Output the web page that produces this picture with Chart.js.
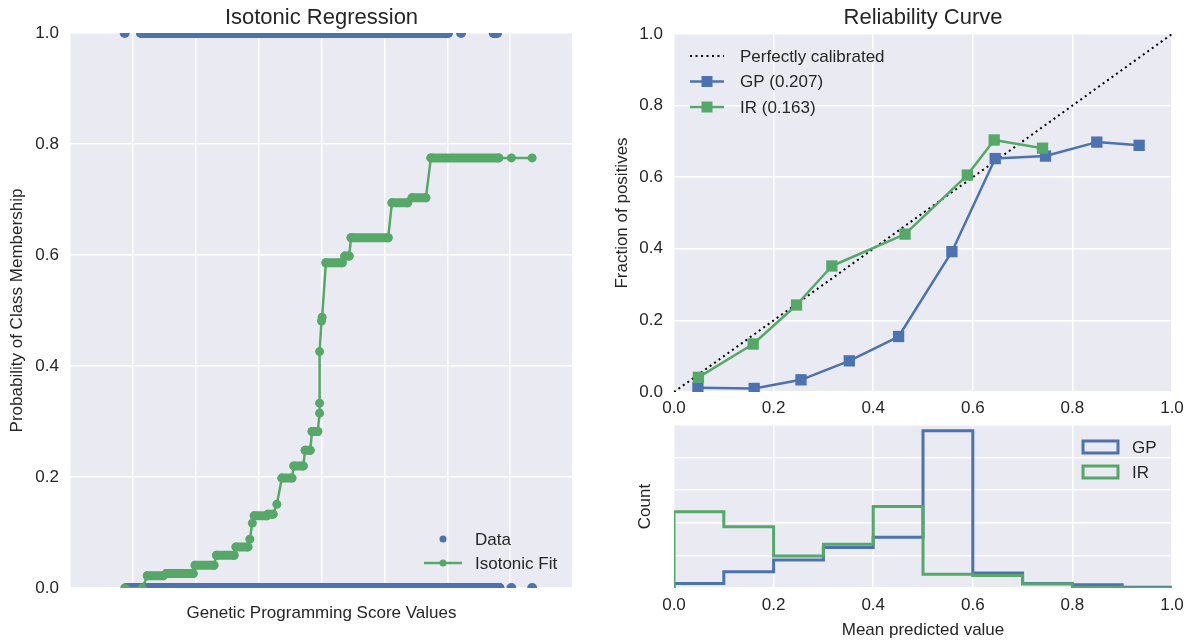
<!DOCTYPE html>
<html>
<head>
<meta charset="utf-8">
<script src="https://cdn.jsdelivr.net/npm/chart.js@4"></script>
<style>
  body { margin: 0; background: #fff; }
  #wrap { position: relative; width: 1198px; height: 641px; }
  canvas { position: absolute; }
</style>
</head>
<body>
<div id="wrap">
  <canvas id="iso" width="600" height="641" style="left:0;top:0"></canvas>
  <canvas id="rel" width="598" height="420" style="left:600px;top:0"></canvas>
  <canvas id="hist" width="598" height="221" style="left:600px;top:420px"></canvas>
</div>
<script>
// isotonic fit: runs of fitted points [start, end] at each level
const fitStart = [-3.13, -2.85, -2.77, -2.47, -2.01, -1.67, -1.36, -1.14, -1.10, -1.07, -0.85, -0.71, -0.63, -0.44, -0.26, -0.15, -0.03, -0.03, -0.03, 0.00, 0.01, 0.07, 0.37, 0.47, 1.12, 1.44, 1.74, 3.02, 3.35];
const fitEnd   = [-3.13, -2.85, -2.52, -2.04, -1.71, -1.39, -1.17, -1.14, -1.10, -0.87, -0.77, -0.71, -0.47, -0.29, -0.18, -0.06, -0.03, -0.03, -0.03, 0.00, 0.01, 0.33, 0.44, 1.06, 1.37, 1.66, 2.82, 3.02, 3.35];
const fitLevel = [0, 0, 0.022, 0.026, 0.041, 0.059, 0.074, 0.088, 0.117, 0.130, 0.133, 0.151, 0.198, 0.220, 0.248, 0.282, 0.315, 0.333, 0.426, 0.481, 0.488, 0.586, 0.598, 0.631, 0.694, 0.703, 0.775, 0.775, 0.775];

// raw data (class 1 and class 0), dense runs of samples
const dataStart = [-3.13, -2.87, 2.22, 2.74, -3.10, 3.02, 3.35];
const dataEnd   = [-3.13, 2.01, 2.22, 2.79, 2.83, 3.02, 3.35];
const dataClass = [1, 1, 1, 1, 0, 0, 0];

// reliability curve
const meanGP = [0.048, 0.161, 0.255, 0.352, 0.451, 0.558, 0.645, 0.746, 0.849, 0.934];
const fracGP = [0.012, 0.010, 0.034, 0.087, 0.155, 0.392, 0.652, 0.659, 0.698, 0.689];
const meanIR = [0.049, 0.159, 0.246, 0.317, 0.464, 0.589, 0.643, 0.740];
const fracIR = [0.041, 0.134, 0.243, 0.352, 0.441, 0.606, 0.704, 0.681];
const diagX = [0, 1];
const diagY = [0, 1];

// histogram of predicted values
const binEdges = [0, 0.1, 0.2, 0.3, 0.4, 0.5, 0.6, 0.7, 0.8, 0.9, 1.0];
const countGP = [7, 25, 43, 62, 78, 241, 23, 7, 5, 1];
const countIR = [117, 94, 49, 67, 125, 21, 19, 6, 1, 0];

const BLUE = "#4C72B0";
const GREEN = "#55A868";
const TEXT = "#262626";
const FONT = '"Liberation Sans", Arial, sans-serif';

Chart.defaults.font.family = FONT;
Chart.defaults.font.size = 17;
Chart.defaults.color = TEXT;
Chart.defaults.animation = false;
Chart.defaults.plugins.legend.display = false;
Chart.defaults.plugins.tooltip.enabled = false;

const plotBg = {
  id: "plotBg",
  beforeDraw(chart) {
    const a = chart.chartArea;
    const ctx = chart.ctx;
    ctx.save();
    ctx.fillStyle = "#EAEAF2";
    ctx.fillRect(a.left, a.top, a.right - a.left, a.bottom - a.top);
    ctx.restore();
  },
};

// title centred over the plot area, not the canvas
const plotTitle = {
  id: "plotTitle",
  afterDraw(chart, args, opts) {
    if (!opts.text) return;
    const a = chart.chartArea;
    const ctx = chart.ctx;
    ctx.save();
    ctx.font = "22px " + FONT;
    ctx.fillStyle = TEXT;
    ctx.textAlign = "center";
    ctx.textBaseline = "middle";
    ctx.fillText(opts.text, (a.left + a.right) / 2, opts.y);
    ctx.restore();
  },
};

// hand drawn legend, matplotlib style
const boxLegend = {
  id: "boxLegend",
  afterDraw(chart, args, opts) {
    const ctx = chart.ctx;
    ctx.save();
    ctx.font = "17px " + FONT;
    ctx.textBaseline = "middle";
    opts.items.forEach((it, i) => {
      const y = opts.y + i * opts.rowH;
      const x0 = opts.x;
      const x1 = opts.x + opts.handle;
      const cx = (x0 + x1) / 2;
      ctx.fillStyle = it.color;
      ctx.strokeStyle = it.color;
      if (it.kind === "dotted") {
        ctx.lineWidth = 2;
        ctx.setLineDash([2, 3.5]);
        ctx.beginPath(); ctx.moveTo(x0, y); ctx.lineTo(x1, y); ctx.stroke();
        ctx.setLineDash([]);
      }
      if (it.kind === "linedot" || it.kind === "linesquare") {
        ctx.lineWidth = 2.5;
        ctx.beginPath(); ctx.moveTo(x0, y); ctx.lineTo(x1, y); ctx.stroke();
      }
      if (it.kind === "dot" || it.kind === "linedot") {
        ctx.beginPath(); ctx.arc(cx, y, 3.5, 0, Math.PI * 2); ctx.fill();
      }
      if (it.kind === "linesquare") {
        ctx.fillRect(cx - 5.5, y - 5.5, 11, 11);
      }
      if (it.kind === "box") {
        ctx.lineWidth = 3;
        ctx.strokeRect(x0, y - 6, opts.handle, 12);
      }
      ctx.fillStyle = TEXT;
      ctx.fillText(it.text, opts.textX, y + 1);
    });
    ctx.restore();
  },
};

function gridOpts() {
  return { color: "#ffffff", lineWidth: 1.5, drawTicks: false };
}

// ---- Isotonic Regression ----
const fitPoints = [];
const fitRuns = [];
fitStart.forEach((s, i) => {
  fitPoints.push({ x: s, y: fitLevel[i] });
  if (fitEnd[i] > s) {
    fitPoints.push({ x: fitEnd[i], y: fitLevel[i] });
    fitRuns.push({ x: s, y: fitLevel[i] }, { x: fitEnd[i], y: fitLevel[i] }, { x: null, y: null });
  }
});
const dataPoints = [];
const dataRuns = [];
dataStart.forEach((s, i) => {
  dataPoints.push({ x: s, y: dataClass[i] });
  if (dataEnd[i] > s) {
    dataPoints.push({ x: dataEnd[i], y: dataClass[i] });
    dataRuns.push({ x: s, y: dataClass[i] }, { x: dataEnd[i], y: dataClass[i] }, { x: null, y: null });
  }
});

new Chart(document.getElementById("iso"), {
  type: "scatter",
  data: {
    datasets: [
      { data: fitRuns, showLine: true, borderColor: GREEN, borderWidth: 9, borderCapStyle: "round", pointRadius: 0, clip: 0, order: 1 },
      { data: fitPoints, showLine: true, borderColor: GREEN, borderWidth: 2.5, pointRadius: 4.5, pointBackgroundColor: GREEN, pointBorderWidth: 0, clip: 0, order: 2 },
      { data: dataRuns, showLine: true, borderColor: BLUE, borderWidth: 10, borderCapStyle: "round", pointRadius: 0, clip: 0, order: 3 },
      { data: dataPoints, pointRadius: 5, pointBackgroundColor: BLUE, pointBorderWidth: 0, clip: 0, order: 4 },
    ],
  },
  options: {
    responsive: false,
    devicePixelRatio: 1,
    layout: { padding: { left: 0, right: 27, top: 33, bottom: 0 } },
    plugins: {
      plotTitle: { text: "Isotonic Regression", y: 18 },
      boxLegend: {
        x: 424, handle: 38, textX: 475, y: 539, rowH: 24,
        items: [
          { kind: "dot", color: BLUE, text: "Data" },
          { kind: "linedot", color: GREEN, text: "Isotonic Fit" },
        ],
      },
    },
    scales: {
      x: {
        type: "linear", min: -4, max: 4,
        ticks: { display: false, stepSize: 1 },
        grid: gridOpts(), border: { display: false },
        title: { display: true, text: "Genetic Programming Score Values", padding: { top: 0, bottom: 17.8 } },
        afterFit: (s) => { s.height = 53; },
      },
      y: {
        min: 0, max: 1,
        ticks: { stepSize: 0.2, padding: 11, callback: (v) => v.toFixed(1) },
        grid: gridOpts(), border: { display: false },
        title: { display: true, text: "Probability of Class Membership", padding: { top: 6.8, bottom: 0 } },
        afterFit: (s) => { s.width = 70; },
      },
    },
  },
  plugins: [plotBg, boxLegend, plotTitle],
});

// ---- Reliability Curve ----
new Chart(document.getElementById("rel"), {
  type: "scatter",
  data: {
    datasets: [
      {
        data: meanIR.map((x, i) => ({ x: x, y: fracIR[i] })),
        showLine: true, borderColor: GREEN, borderWidth: 2.5, borderJoinStyle: "round",
        pointStyle: "rect", pointRadius: 8, pointBackgroundColor: GREEN, pointBorderColor: GREEN, pointBorderWidth: 0,
        clip: 0, order: 1,
      },
      {
        data: meanGP.map((x, i) => ({ x: x, y: fracGP[i] })),
        showLine: true, borderColor: BLUE, borderWidth: 2.5, borderJoinStyle: "round",
        pointStyle: "rect", pointRadius: 8, pointBackgroundColor: BLUE, pointBorderColor: BLUE, pointBorderWidth: 0,
        clip: 0, order: 2,
      },
      {
        data: diagX.map((x, i) => ({ x: x, y: diagY[i] })),
        showLine: true, borderColor: "#000000", borderWidth: 2, borderDash: [2, 3.5], pointRadius: 0,
        clip: 0, order: 3,
      },
    ],
  },
  options: {
    responsive: false,
    devicePixelRatio: 1,
    layout: { padding: { left: 0, right: 26, top: 34, bottom: 0 } },
    plugins: {
      plotTitle: { text: "Reliability Curve", y: 18 },
      boxLegend: {
        x: 90, handle: 34, textX: 140, y: 56, rowH: 25.5,
        items: [
          { kind: "dotted", color: "#000000", text: "Perfectly calibrated" },
          { kind: "linesquare", color: BLUE, text: "GP (0.207)" },
          { kind: "linesquare", color: GREEN, text: "IR (0.163)" },
        ],
      },
    },
    scales: {
      x: {
        type: "linear", min: 0, max: 1,
        ticks: { stepSize: 0.2, padding: 6, callback: (v) => v.toFixed(1) },
        grid: gridOpts(), border: { display: false },
        afterFit: (s) => { s.height = 28; },
      },
      y: {
        min: 0, max: 1,
        ticks: { stepSize: 0.2, padding: 11, callback: (v) => v.toFixed(1) },
        grid: gridOpts(), border: { display: false },
        title: { display: true, text: "Fraction of positives", padding: { top: 11.8, bottom: 0 } },
        afterFit: (s) => { s.width = 74; },
      },
    },
  },
  plugins: [plotBg, boxLegend, plotTitle],
});

// ---- Histogram ----
function stepOutline(counts) {
  const pts = [{ x: binEdges[0], y: 0 }];
  counts.forEach((c, i) => pts.push({ x: binEdges[i], y: c }));
  pts.push({ x: binEdges[binEdges.length - 1], y: counts[counts.length - 1] });
  pts.push({ x: binEdges[binEdges.length - 1], y: 0 });
  return pts;
}

new Chart(document.getElementById("hist"), {
  type: "scatter",
  data: {
    datasets: [
      { data: stepOutline(countIR), showLine: true, stepped: true, borderColor: GREEN, borderWidth: 3, pointRadius: 0, clip: 0, order: 1 },
      { data: stepOutline(countGP), showLine: true, stepped: true, borderColor: BLUE, borderWidth: 3, pointRadius: 0, clip: 0, order: 2 },
    ],
  },
  options: {
    responsive: false,
    devicePixelRatio: 1,
    layout: { padding: { left: 0, right: 26, top: 5, bottom: 0 } },
    plugins: {
      boxLegend: {
        x: 483, handle: 35, textX: 532, y: 27, rowH: 25,
        items: [
          { kind: "box", color: BLUE, text: "GP" },
          { kind: "box", color: GREEN, text: "IR" },
        ],
      },
    },
    scales: {
      x: {
        type: "linear", min: 0, max: 1,
        ticks: { stepSize: 0.2, padding: 7, callback: (v) => v.toFixed(1) },
        grid: gridOpts(), border: { display: false },
        title: { display: true, text: "Mean predicted value", padding: { top: 0, bottom: 0 } },
        afterFit: (s) => { s.height = 53; },
      },
      y: {
        min: 0, max: 250,
        ticks: { display: false, stepSize: 50 },
        grid: gridOpts(), border: { display: false },
        title: { display: true, text: "Count", padding: { top: 34.8, bottom: 0 } },
        afterFit: (s) => { s.width = 74; },
      },
    },
  },
  plugins: [plotBg, boxLegend],
});
</script>
</body>
</html>
